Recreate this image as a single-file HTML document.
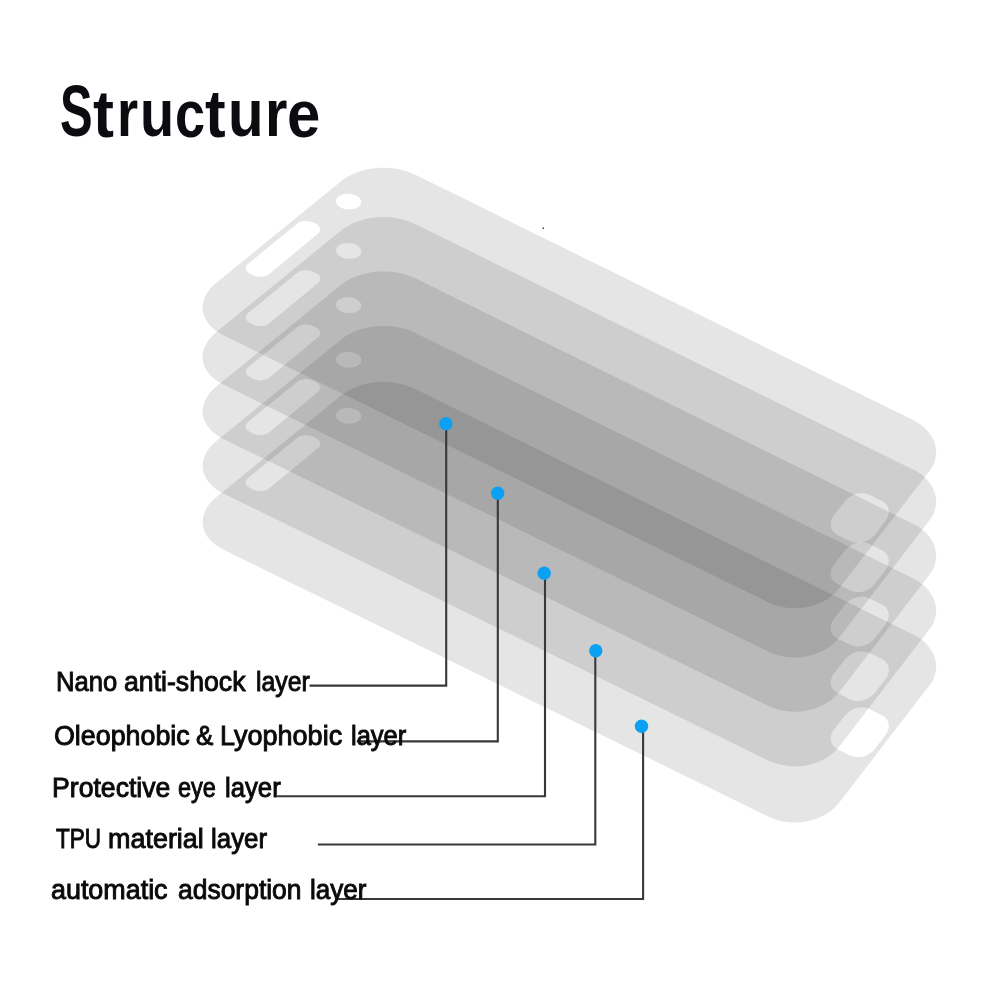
<!DOCTYPE html>
<html><head><meta charset="utf-8"><title>Structure</title>
<style>
html,body{margin:0;padding:0;background:#fff;}
body{width:998px;height:998px;overflow:hidden;position:relative;font-family:"Liberation Sans",sans-serif;}
svg{position:absolute;left:0;top:0;display:block;filter:blur(0.7px);}
#tx{position:absolute;left:0;top:0;width:998px;height:998px;filter:blur(0.5px);}
.t,.w{position:absolute;white-space:nowrap;transform-origin:0 0;line-height:1;}
.t{font-size:71px;font-weight:bold;color:#0b0b10;}
.w{font-size:26.6px;color:#0a0a0a;-webkit-text-stroke:0.9px #0a0a0a;}
</style></head><body>
<svg width="998" height="998" viewBox="0 0 998 998">
<defs><path id="ly" fill-rule="evenodd" d="M341.4 181.0L344.4 178.7L347.8 176.6L351.3 174.7L355.2 173.1L359.2 171.6L363.4 170.3L367.7 169.3L372.1 168.5L376.6 168.0L381.2 167.8L385.7 167.8L390.2 168.0L394.7 168.5L399.0 169.2L403.3 170.2L407.3 171.4L411.2 172.9L414.9 174.5L913.1 420.1L916.5 422.0L919.7 424.0L922.7 426.3L925.5 428.7L927.9 431.4L930.1 434.1L931.9 437.0L933.5 440.0L934.7 443.1L935.5 446.2L936.1 449.4L936.2 452.6L936.0 455.8L935.4 458.9L934.5 462.0L933.3 465.1L931.7 468.0L929.7 470.8L839.3 588.3L836.8 591.3L834.0 594.0L830.9 596.6L827.4 599.0L823.8 601.2L819.9 603.0L815.9 604.6L811.6 606.0L807.3 607.0L802.8 607.7L798.3 608.1L793.7 608.2L789.2 608.0L784.7 607.4L780.3 606.6L776.0 605.4L771.9 604.0L768.0 602.2L223.2 335.3L219.5 333.3L216.1 331.0L213.0 328.5L210.3 325.9L207.9 323.1L206.0 320.1L204.5 317.1L203.4 313.9L202.8 310.7L202.6 307.4L202.9 304.1L203.6 300.8L204.7 297.6L206.3 294.4L208.2 291.3L210.6 288.3L213.3 285.4L216.4 282.7ZM297.4 223.5L298.9 222.5L300.7 221.7L302.7 221.2L304.8 220.9L307.0 220.9L309.2 221.2L311.3 221.7L313.2 222.5L315.6 223.6L317.3 224.6L318.6 225.8L319.5 227.0L320.1 228.4L320.2 229.8L319.9 231.2L319.2 232.4L318.0 233.6L269.3 274.0L267.7 275.1L265.9 275.9L263.8 276.5L261.6 276.8L259.3 276.8L257.1 276.5L254.9 276.0L252.9 275.2L250.5 274.0L248.8 273.0L247.4 271.8L246.5 270.5L245.9 269.1L245.8 267.6L246.2 266.2L247.0 264.9L248.2 263.7ZM845.3 501.0L847.6 498.6L850.4 496.5L853.4 494.9L856.7 493.8L860.0 493.2L863.4 493.2L866.5 493.7L869.4 494.8L881.9 500.9L884.4 502.5L886.4 504.5L887.8 506.9L888.6 509.5L888.8 512.3L888.3 515.2L887.2 518.0L885.5 520.7L874.7 534.7L872.5 537.1L869.7 539.3L866.7 540.9L863.4 542.1L860.0 542.7L856.6 542.8L853.4 542.3L850.4 541.2L837.7 534.9L835.1 533.3L833.1 531.3L831.7 528.9L830.9 526.2L830.8 523.3L831.3 520.4L832.5 517.5L834.3 514.8ZM358.9 206.6L357.0 207.9L354.7 208.8L352.0 209.3L349.2 209.5L346.4 209.3L343.7 208.7L341.2 207.7L339.1 206.4L337.5 204.9L336.4 203.2L336.0 201.4L336.2 199.7L337.0 198.0L338.4 196.5L340.3 195.3L342.6 194.4L345.2 193.8L348.0 193.7L350.8 193.9L353.5 194.5L356.0 195.5L358.1 196.8L359.7 198.3L360.8 199.9L361.2 201.7L361.1 203.5L360.3 205.1Z"/></defs>
<use href="#ly" y="0.0" fill="#000" fill-opacity="0.100"/>
<use href="#ly" y="49.3" fill="#000" fill-opacity="0.100"/>
<use href="#ly" y="103.6" fill="#000" fill-opacity="0.100"/>
<use href="#ly" y="158.2" fill="#000" fill-opacity="0.100"/>
<use href="#ly" y="214.3" fill="#000" fill-opacity="0.100"/>
<path d="M446.2 423.8V685.6H309.5" fill="none" stroke="#383838" stroke-width="2.1"/>
<circle cx="445.9" cy="423.8" r="6.7" fill="#0ca0f2"/>
<path d="M497.8 493.3V741.4H356.8" fill="none" stroke="#383838" stroke-width="2.1"/>
<circle cx="497.7" cy="493.3" r="6.7" fill="#0ca0f2"/>
<path d="M545.0 573.2V796.3H277.0" fill="none" stroke="#383838" stroke-width="2.1"/>
<circle cx="544.2" cy="573.2" r="6.7" fill="#0ca0f2"/>
<path d="M595.3 650.8V844.5H317.9" fill="none" stroke="#383838" stroke-width="2.1"/>
<circle cx="595.8" cy="650.8" r="6.7" fill="#0ca0f2"/>
<path d="M643.1 726.3V899.0H335.0" fill="none" stroke="#383838" stroke-width="2.1"/>
<circle cx="641.5" cy="726.3" r="6.7" fill="#0ca0f2"/>
<rect x="542.5" y="227.5" width="1.5" height="1.5" fill="#444"/>
</svg>
<div id="tx">
<div class="t" style="left:59.92px;top:75.34px;transform:scale(0.6894,1.0169)">S</div>
<div class="t" style="left:92.94px;top:80.64px;transform:scale(0.8864,0.9305)">t</div>
<div class="t" style="left:116.97px;top:80.33px;transform:scale(0.7632,0.9333)">r</div>
<div class="t" style="left:139.65px;top:80.18px;transform:scale(0.7883,0.9359)">u</div>
<div class="t" style="left:175.10px;top:79.72px;transform:scale(0.7626,0.9436)">c</div>
<div class="t" style="left:205.45px;top:79.87px;transform:scale(0.8727,0.9433)">t</div>
<div class="t" style="left:228.01px;top:80.18px;transform:scale(0.8204,0.9359)">u</div>
<div class="t" style="left:264.76px;top:80.33px;transform:scale(0.8092,0.9333)">r</div>
<div class="t" style="left:287.08px;top:79.72px;transform:scale(0.8438,0.9436)">e</div>
<div class="w" style="left:55.71px;top:667.75px;transform:scale(0.9633,1.050)">Nano</div>
<div class="w" style="left:124.25px;top:667.75px;transform:scale(1.0021,1.050)">anti-shock</div>
<div class="w" style="left:255.63px;top:667.75px;transform:scale(0.9327,1.050)">layer</div>
<div class="w" style="left:54.24px;top:721.55px;transform:scale(1.0090,1.050)">Oleophobic</div>
<div class="w" style="left:196.41px;top:721.55px;transform:scale(0.9739,1.050)">&amp;</div>
<div class="w" style="left:220.32px;top:721.55px;transform:scale(1.0156,1.050)">Lyophobic</div>
<div class="w" style="left:350.50px;top:721.55px;transform:scale(0.9593,1.050)">layer</div>
<div class="w" style="left:52.05px;top:774.45px;transform:scale(1.0013,1.050)">Protective</div>
<div class="w" style="left:177.64px;top:774.45px;transform:scale(0.8848,1.050)">eye</div>
<div class="w" style="left:224.69px;top:774.45px;transform:scale(0.9664,1.050)">layer</div>
<div class="w" style="left:56.19px;top:824.95px;transform:scale(0.8449,1.050)">TPU</div>
<div class="w" style="left:108.33px;top:824.95px;transform:scale(1.0130,1.050)">material</div>
<div class="w" style="left:210.58px;top:824.95px;transform:scale(0.9735,1.050)">layer</div>
<div class="w" style="left:50.74px;top:876.05px;transform:scale(1.0109,1.050)">automatic</div>
<div class="w" style="left:178.15px;top:876.05px;transform:scale(0.9947,1.050)">adsorption</div>
<div class="w" style="left:310.37px;top:876.05px;transform:scale(0.9805,1.050)">layer</div>
</div>
</body></html>
